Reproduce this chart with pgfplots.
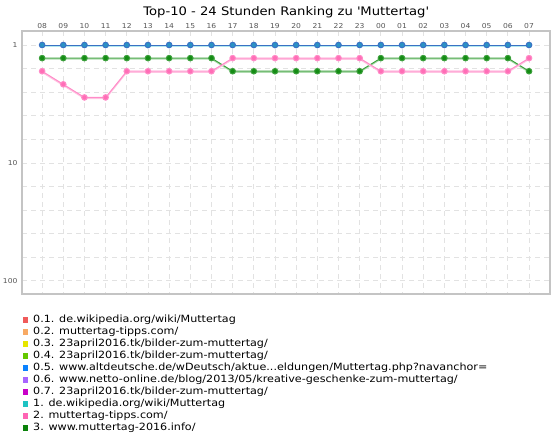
\documentclass[border=0pt]{standalone}
\usepackage{pgfplots}
\pgfplotsset{compat=1.18}
\usepackage{fontspec}
\setmainfont{DejaVu Sans}[FakeStretch=1.12]

\definecolor{axisgray}{HTML}{C4C4C4}
\definecolor{gridgray}{HTML}{E2E2E2}
\definecolor{tickgray}{HTML}{555555}
% legend colours
\definecolor{cA}{HTML}{F05A5A}
\definecolor{cB}{HTML}{F8AA64}
\definecolor{cC}{HTML}{E6E600}
\definecolor{cD}{HTML}{64C800}
\definecolor{cE}{HTML}{0A82FF}
\definecolor{cF}{HTML}{A864FF}
\definecolor{cG}{HTML}{C800C8}
\definecolor{cH}{HTML}{1EC3C3}
\definecolor{cI}{HTML}{FF64B4}
\definecolor{cJ}{HTML}{0A820A}
% line / marker colours
\definecolor{blueline}{HTML}{3A72C4}
\definecolor{bluehalo}{HTML}{B4E8EE}
\definecolor{bluemark}{HTML}{2A92C4}
\definecolor{pinkline}{HTML}{FF8CC8}
\definecolor{pinkhalo}{HTML}{FFC4E2}
\definecolor{pinkmark}{HTML}{FF6EB6}
\definecolor{greenline}{HTML}{3CA03C}
\definecolor{greenhalo}{HTML}{B0DCB0}
\definecolor{greenmark}{HTML}{148C14}

\begin{document}
\begin{tikzpicture}[x=1bp,y=1bp]
\useasboundingbox (0,0) rectangle (560,440);
\begin{axis}[
  at={(22bp,146bp)}, anchor=south west,
  scale only axis, width=528bp, height=263bp,
  xmin=-0.95, xmax=23.99,
  ymin=-0.07, ymax=20.0, y dir=reverse,
  xtick={0,...,23},
  xticklabels={08,09,10,11,12,13,14,15,16,17,18,19,20,21,22,23,00,01,02,03,04,05,06,07},
  xticklabel pos=right,
  ytick={1,2.8,4.6,6.4,8.2,10,11.8,13.6,15.4,17.2,19},
  yticklabels={1,,,,,10,,,,,100},
  major tick length=0pt,
  grid=major,
  major grid style={draw=gridgray, line width=0.8bp, dash pattern=on 5bp off 4bp},
  axis line style={draw=axisgray, line width=1.2bp},
  tick label style={font=\fontsize{6.8}{7}\selectfont, text=tickgray},
  xticklabel style={yshift=-1bp},
  yticklabel style={xshift=-1bp},
  title={Top-10 - 24 Stunden Ranking zu \textquotesingle Muttertag\textquotesingle},
  title style={font=\fontsize{11.8}{13}\selectfont, at={(0.5,1)}, anchor=base, yshift=10bp},
  legend image code/.code={\fill[#1, draw=none] (0bp,-2.7bp) rectangle (5.4bp,2.7bp);
    \path[draw=none, fill=none] (0bp,0bp) -- (10bp,0bp);},
  legend cell align=left,
  legend style={at={(axis description cs:0,0)}, anchor=north west, xshift=-2.5bp, yshift=-19bp,
    draw=none, fill=none, font=\fontsize{10}{10}\selectfont, row sep=2bp,
    nodes={inner sep=0.5bp, text height=7bp, text depth=2bp}},
]
\addlegendimage{fill=cA}
\addlegendentry{0.1. de.wikipedia.org/wiki/Muttertag}
\addlegendimage{fill=cB}
\addlegendentry{0.2. muttertag-tipps.com/}
\addlegendimage{fill=cC}
\addlegendentry{0.3. 23april2016.tk/bilder-zum-muttertag/}
\addlegendimage{fill=cD}
\addlegendentry{0.4. 23april2016.tk/bilder-zum-muttertag/}
\addlegendimage{fill=cE}
\addlegendentry{0.5. www.altdeutsche.de/wDeutsch/aktue...eldungen/Muttertag.php?navanchor=}
\addlegendimage{fill=cF}
\addlegendentry{0.6. www.netto-online.de/blog/2013/05/kreative-geschenke-zum-muttertag/}
\addlegendimage{fill=cG}
\addlegendentry{0.7. 23april2016.tk/bilder-zum-muttertag/}
\addlegendimage{fill=cH}
\addlegendentry{1. de.wikipedia.org/wiki/Muttertag}
\addlegendimage{fill=cI}
\addlegendentry{2. muttertag-tipps.com/}
\addlegendimage{fill=cJ}
\addlegendentry{3. www.muttertag-2016.info/}

% 1. de.wikipedia.org/wiki/Muttertag
\addplot[forget plot, draw=bluehalo, line width=1.2bp, yshift=-1bp] coordinates {
(0,1)(1,1)(2,1)(3,1)(4,1)(5,1)(6,1)(7,1)(8,1)(9,1)(10,1)(11,1)
(12,1)(13,1)(14,1)(15,1)(16,1)(17,1)(18,1)(19,1)(20,1)(21,1)(22,1)(23,1)};
\addplot[forget plot, draw=blueline, line width=1bp, mark=*, mark size=2.8bp,
  mark options={fill=bluemark, draw=none}] coordinates {
(0,1)(1,1)(2,1)(3,1)(4,1)(5,1)(6,1)(7,1)(8,1)(9,1)(10,1)(11,1)
(12,1)(13,1)(14,1)(15,1)(16,1)(17,1)(18,1)(19,1)(20,1)(21,1)(22,1)(23,1)};

% 3. www.muttertag-2016.info/
\addplot[forget plot, draw=greenhalo, line width=1.2bp, yshift=-1bp] coordinates {
(0,2)(1,2)(2,2)(3,2)(4,2)(5,2)(6,2)(7,2)(8,2)(9,3)(10,3)(11,3)
(12,3)(13,3)(14,3)(15,3)(16,2)(17,2)(18,2)(19,2)(20,2)(21,2)(22,2)(23,3)};
\addplot[forget plot, draw=greenline, line width=1bp, mark=*, mark size=2.8bp,
  mark options={fill=greenmark, draw=none}] coordinates {
(0,2)(1,2)(2,2)(3,2)(4,2)(5,2)(6,2)(7,2)(8,2)(9,3)(10,3)(11,3)
(12,3)(13,3)(14,3)(15,3)(16,2)(17,2)(18,2)(19,2)(20,2)(21,2)(22,2)(23,3)};

% 2. muttertag-tipps.com/
\addplot[forget plot, draw=pinkhalo, line width=1.4bp, yshift=-1bp] coordinates {
(0,3)(1,4)(2,5)(3,5)(4,3)(5,3)(6,3)(7,3)(8,3)(9,2)(10,2)(11,2)
(12,2)(13,2)(14,2)(15,2)(16,3)(17,3)(18,3)(19,3)(20,3)(21,3)(22,3)(23,2)};
\addplot[forget plot, draw=pinkline, line width=1bp, mark=*, mark size=2.8bp,
  mark options={fill=pinkmark, draw=none}] coordinates {
(0,3)(1,4)(2,5)(3,5)(4,3)(5,3)(6,3)(7,3)(8,3)(9,2)(10,2)(11,2)
(12,2)(13,2)(14,2)(15,2)(16,3)(17,3)(18,3)(19,3)(20,3)(21,3)(22,3)(23,2)};
\end{axis}
\end{tikzpicture}
\end{document}
